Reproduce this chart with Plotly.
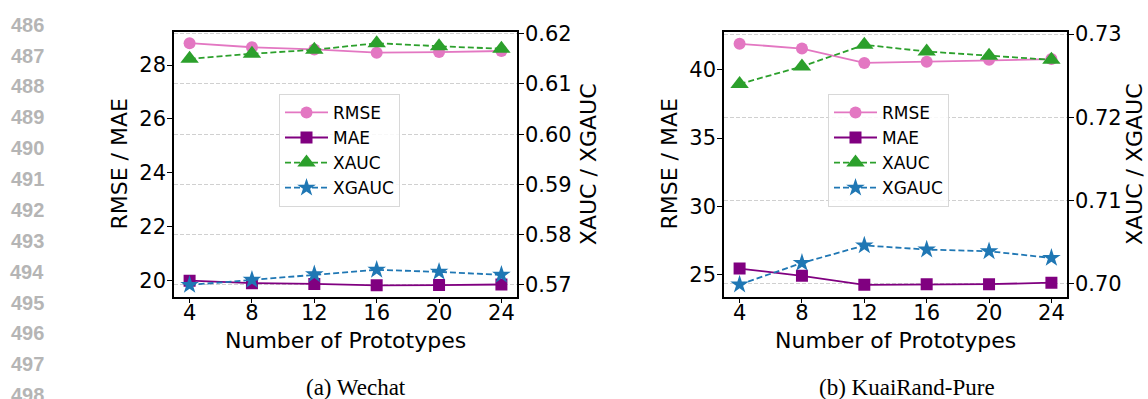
import plotly.graph_objects as go

W, H = 1148, 399

prototypes = [4, 8, 12, 16, 20, 24]

# (a) Wechat
rmse_wechat = [28.81, 28.66, 28.58, 28.46, 28.48, 28.52]
mae_wechat = [20.00, 19.91, 19.88, 19.83, 19.84, 19.86]
xauc_wechat = [0.6150, 0.6160, 0.6168, 0.6181, 0.6175, 0.6170]
xgauc_wechat = [0.5700, 0.5710, 0.5721, 0.5730, 0.5726, 0.5720]

# (b) KuaiRand-Pure
rmse_kuai = [41.90, 41.55, 40.50, 40.59, 40.73, 40.78]
mae_kuai = [25.46, 24.93, 24.27, 24.32, 24.32, 24.43]
xauc_kuai = [0.7240, 0.7261, 0.7287, 0.7279, 0.7274, 0.7269]
xgauc_kuai = [0.6999, 0.7025, 0.7046, 0.7041, 0.7039, 0.7031]

left_ticks_wechat = [20, 22, 24, 26, 28]
right_ticks_wechat = [0.57, 0.58, 0.59, 0.60, 0.61, 0.62]
left_ticks_kuai = [25, 30, 35, 40]
right_ticks_kuai = [0.70, 0.71, 0.72, 0.73]

captions = ["(a) Wechat", "(b) KuaiRand-Pure"]
line_numbers = list(range(486, 499))

C_RMSE = "#e377c2"
C_MAE = "#800080"
C_XAUC = "#2ca02c"
C_XGAUC = "#1f77b4"
FONT = "DejaVu Sans"


def px_x(v):
    return v / W


def px_y(v):
    return 1 - v / H


fig = go.Figure()


def add_panel(xa, ya_l, ya_r, legend, rmse, mae, xauc, xgauc):
    fig.add_trace(go.Scatter(x=prototypes, y=rmse, name="RMSE", mode="lines+markers",
                             line=dict(color=C_RMSE, width=1.8),
                             marker=dict(symbol="circle", size=12, color=C_RMSE),
                             xaxis=xa, yaxis=ya_l, legend=legend))
    fig.add_trace(go.Scatter(x=prototypes, y=mae, name="MAE", mode="lines+markers",
                             line=dict(color=C_MAE, width=1.8),
                             marker=dict(symbol="square", size=12, color=C_MAE),
                             xaxis=xa, yaxis=ya_l, legend=legend))
    fig.add_trace(go.Scatter(x=prototypes, y=xauc, name="XAUC", mode="lines+markers",
                             line=dict(color=C_XAUC, width=1.8, dash="6px,3px"),
                             marker=dict(symbol="triangle-up", size=16, color=C_XAUC),
                             xaxis=xa, yaxis=ya_r, legend=legend))
    fig.add_trace(go.Scatter(x=prototypes, y=xgauc, name="XGAUC", mode="lines+markers",
                             line=dict(color=C_XGAUC, width=1.8, dash="6px,3px"),
                             marker=dict(symbol="star", size=14, color=C_XGAUC),
                             xaxis=xa, yaxis=ya_r, legend=legend))


add_panel("x", "y", "y2", "legend", rmse_wechat, mae_wechat, xauc_wechat, xgauc_wechat)
add_panel("x2", "y3", "y4", "legend2", rmse_kuai, mae_kuai, xauc_kuai, xgauc_kuai)

tick_font = dict(family=FONT, size=21, color="black")
top_px, bot_px = 23, 294
ydom = [px_y(bot_px), px_y(top_px)]

xcommon = dict(range=[3, 25], tickvals=prototypes, showgrid=False, zeroline=False,
               showline=True, linecolor="black", linewidth=1.5, mirror=True,
               ticks="outside", ticklen=5, tickwidth=1.2, tickcolor="black",
               tickfont=tick_font, ticklabelstandoff=-9)
ycommon = dict(showline=True, linecolor="black", linewidth=1.5, zeroline=False,
               ticks="outside", ticklen=5, tickwidth=1.2, tickcolor="black",
               tickfont=tick_font, ticklabelstandoff=-3)
grid = dict(showgrid=True, gridcolor="#d0d0d0", gridwidth=1, griddash="4px,2px")

legend_common = dict(yanchor="top", xanchor="left", y=px_y(86),
                     bgcolor="rgba(255,255,255,0.85)", bordercolor="#d8d8d8", borderwidth=1,
                     font=dict(family=FONT, size=17, color="black"), itemwidth=43)

fig.update_layout(
    width=W, height=H, autosize=False,
    margin=dict(l=0, r=0, t=0, b=0),
    paper_bgcolor="white", plot_bgcolor="white",
    font=dict(family=FONT, color="black"),
    xaxis=dict(domain=[px_x(174), px_x(517)], anchor="y", **xcommon),
    yaxis=dict(domain=ydom, anchor="x", range=[19.41, 29.21], tickvals=left_ticks_wechat,
               showgrid=False, **ycommon),
    yaxis2=dict(domain=ydom, anchor="x", overlaying="y", side="right",
                range=[0.56767, 0.62025], tickvals=right_ticks_wechat, tickformat=".2f",
                **grid, **ycommon),
    xaxis2=dict(domain=[px_x(724), px_x(1067)], anchor="y3", **xcommon),
    yaxis3=dict(domain=ydom, anchor="x2", range=[23.41, 42.73], tickvals=left_ticks_kuai,
                showgrid=False, **ycommon),
    yaxis4=dict(domain=ydom, anchor="x2", overlaying="y3", side="right",
                range=[0.69845, 0.73019], tickvals=right_ticks_kuai, tickformat=".2f",
                **grid, **ycommon),
    legend=dict(x=px_x(279), **legend_common),
    legend2=dict(x=px_x(828), **legend_common),
)

ann = []
title_font = dict(family=FONT, size=22, color="black")
mid_y = (top_px + bot_px) / 2
for cx, lx, rx in [(345.5, 120, 588.6), (895.5, 670, 1134.5)]:
    ann.append(dict(text="Number of Prototypes", x=px_x(cx), y=px_y(339), xref="paper",
                    yref="paper", xanchor="center", yanchor="middle", showarrow=False,
                    font=title_font))
    ann.append(dict(text="RMSE / MAE", x=px_x(lx), y=px_y(mid_y), xref="paper",
                    yref="paper", xanchor="center", yanchor="middle", showarrow=False,
                    textangle=-90, font=title_font))
    ann.append(dict(text="XAUC / XGAUC", x=px_x(rx), y=px_y(mid_y), xref="paper",
                    yref="paper", xanchor="center", yanchor="middle", showarrow=False,
                    textangle=-90, font=title_font))

for cap, cx in zip(captions, [356, 907]):
    ann.append(dict(text=cap, x=px_x(cx), y=px_y(387.5), xref="paper", yref="paper",
                    xanchor="center", yanchor="middle", showarrow=False,
                    font=dict(family="Liberation Serif", size=23, color="black")))

for i, n in enumerate(line_numbers):
    ann.append(dict(text="<b>%d</b>" % n, x=px_x(27), y=px_y(15 + 31.67 * i), xref="paper",
                    yref="paper", xanchor="center", yanchor="middle", showarrow=False,
                    font=dict(family="Liberation Sans", size=20, color="#b5b5b5")))

fig.update_layout(annotations=ann)

fig.write_html("out.html")
